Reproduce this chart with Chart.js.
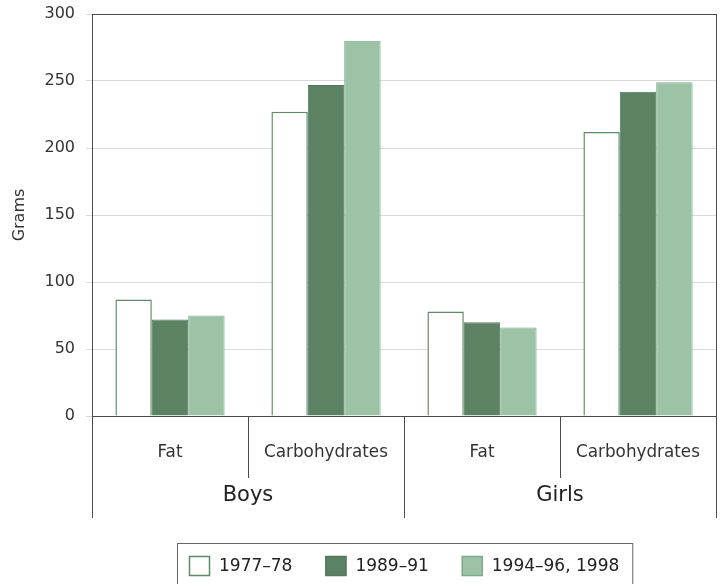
<!DOCTYPE html>
<html>
<head>
<meta charset="utf-8">
<script src="https://cdn.jsdelivr.net/npm/chart.js@4.4.0/dist/chart.umd.min.js"></script>
<style>
  html, body { margin: 0; padding: 0; background: #fff; }
  #wrap { width: 720px; height: 584px; position: relative; }
</style>
</head>
<body>
<div id="wrap"><canvas id="c"></canvas></div>
<script>
"use strict";

// categories (inner level) and groups (outer level)
var categories = ['Fat', 'Carbohydrates', 'Fat', 'Carbohydrates'];
var groups = ['Boys', 'Girls'];
var seriesNames = ['1977–78', '1989–91', '1994–96, 1998'];

// grams
var s1977 = [87, 227, 78, 212];
var s1989 = [72, 247, 70, 242];
var s1994 = [75, 280, 66, 249];

var FONT = '"DejaVu Sans", Verdana, sans-serif';
var AXIS = '#4a4a4a';

/* separators under the x axis, group labels, frame and legend box */
var axisDeco = {
  id: 'axisDeco',
  afterDraw: function(chart) {
    var ctx = chart.ctx, x = chart.scales.x, a = chart.chartArea;
    var step = x.getPixelForValue(1) - x.getPixelForValue(0);
    ctx.save();
    ctx.strokeStyle = AXIS;
    ctx.lineWidth = 1;
    ctx.strokeRect(Math.round(a.left) + 0.5, Math.round(a.top) + 0.5,
                   Math.round(a.right - a.left), Math.round(a.bottom - a.top));
    for (var i = 0; i <= categories.length; i++) {
      var px = Math.round(x.getPixelForValue(i) - step / 2) + 0.5;
      var len = (i % 2 === 0) ? 102 : 62;
      ctx.beginPath();
      ctx.moveTo(px, a.bottom);
      ctx.lineTo(px, a.bottom + len);
      ctx.stroke();
    }
    ctx.fillStyle = '#222';
    ctx.font = '21px ' + FONT;
    ctx.textAlign = 'center';
    ctx.textBaseline = 'middle';
    groups.forEach(function(g, k) {
      var cx = (x.getPixelForValue(2 * k) + x.getPixelForValue(2 * k + 1)) / 2;
      ctx.fillText(g, cx, a.bottom + 80);
    });

    // legend
    ctx.font = '17px ' + FONT;
    ctx.textAlign = 'left';
    var boxW = 21, boxH = 20, gap = 9, spacing = 33;
    var widths = seriesNames.map(function(s) { return ctx.measureText(s).width; });
    var total = widths.reduce(function(t, w) { return t + boxW + gap + w; }, 0) + spacing * (seriesNames.length - 1);
    var cxl = (a.left + a.right) / 2;
    var lx = Math.round(cxl - total / 2);
    var ly = 556;
    ctx.strokeStyle = '#666';
    ctx.strokeRect(lx - 11.5, 543.5, total + 25, 60);
    chart.data.datasets.forEach(function(ds, k) {
      ctx.fillStyle = ds.backgroundColor;
      ctx.fillRect(lx, ly, boxW, boxH);
      ctx.strokeStyle = ds.borderColor;
      ctx.lineWidth = 1.5;
      ctx.strokeRect(lx + 0.5, ly + 0.5, boxW - 1, boxH - 1);
      ctx.fillStyle = '#222';
      ctx.fillText(seriesNames[k], lx + boxW + gap, ly + boxH / 2 + 1);
      lx += boxW + gap + widths[k] + spacing;
    });
    ctx.restore();
  }
};

new Chart(document.getElementById('c'), {
  type: 'bar',
  data: {
    labels: categories,
    datasets: [
      { label: seriesNames[0], data: s1977, backgroundColor: '#ffffff', borderColor: '#5e8c67', borderWidth: 1.5 },
      { label: seriesNames[1], data: s1989, backgroundColor: '#5b8262', borderColor: '#52775a', borderWidth: 1 },
      { label: seriesNames[2], data: s1994, backgroundColor: '#9dc3a7', borderColor: '#7ea98a', borderWidth: 1 }
    ]
  },
  options: {
    responsive: true,
    maintainAspectRatio: false,
    animation: false,
    layout: { padding: { top: 14, right: 4, bottom: 0, left: 0 } },
    datasets: { bar: { categoryPercentage: 0.7, barPercentage: 1.0 } },
    plugins: {
      legend: { display: false },
      tooltip: { enabled: false }
    },
    scales: {
      x: {
        grid: { display: false },
        border: { display: true, color: AXIS },
        ticks: { color: '#333', padding: 19, font: { family: FONT, size: 16.8 }, maxRotation: 0 },
        afterFit: function(s) { s.height = 168; }
      },
      y: {
        min: 0, max: 300,
        grid: { color: '#d9d9d9', tickLength: 6 },
        border: { display: true, color: AXIS },
        ticks: { stepSize: 50, color: '#333', padding: 11, font: { family: FONT, size: 16 } },
        title: { display: true, text: 'Grams', color: '#333', padding: 10, font: { family: FONT, size: 16 } },
        afterFit: function(s) { s.width = 92; s.paddingTop = 0; s.paddingBottom = 0; }
      }
    }
  },
  plugins: [axisDeco]
});
</script>
</body>
</html>
